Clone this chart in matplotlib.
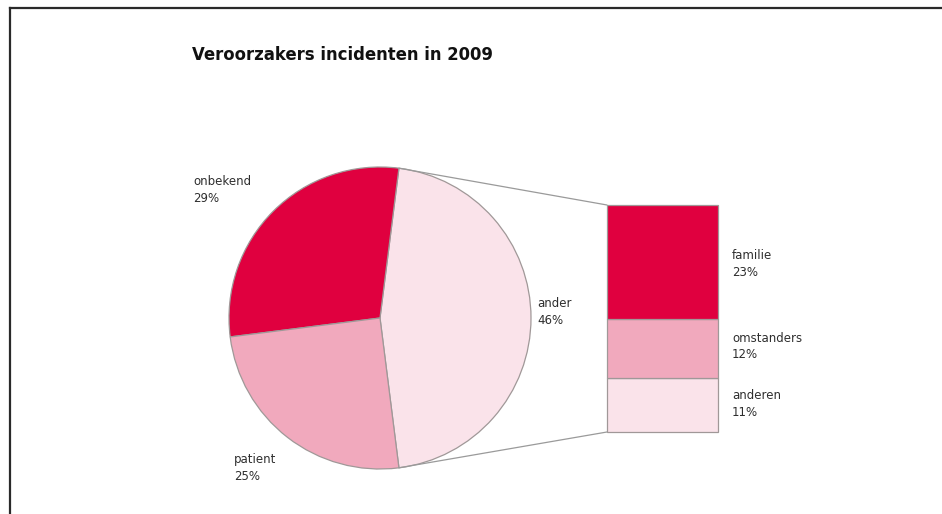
import matplotlib
matplotlib.use("Agg")
import matplotlib.pyplot as plt
from matplotlib.patches import ConnectionPatch
from matplotlib.lines import Line2D
import numpy as np

W, H = 942, 514

title = "Veroorzakers incidenten in 2009"

# main pie
pie_labels = ["ander", "onbekend", "patient"]
pie_values = [46, 29, 25]

# breakdown of "ander"
bar_labels = ["familie", "omstanders", "anderen"]
bar_values = [23, 12, 11]

c_dark = "#E0003F"
c_mid = "#F1A9BD"
c_light = "#FAE3EA"
edge = "#A09898"
txt = "#2e2e2e"

pie_colors = [c_light, c_dark, c_mid]
bar_colors = [c_dark, c_mid, c_light]

fig = plt.figure(figsize=(W / 100, H / 100), dpi=100)
fig.patch.set_facecolor("white")


def px_box(x0, y0, x1, y1):
    return [x0 / W, 1 - y1 / H, (x1 - x0) / W, (y1 - y0) / H]


def ftext(x, y, s, **kw):
    fig.text(x / W, 1 - y / H, s, **kw)


# pie
ax_pie = fig.add_axes(px_box(229, 167, 531, 469))
half = pie_values[0] / 100 * 360 / 2
wedges, _ = ax_pie.pie(
    pie_values, colors=pie_colors, startangle=-half, counterclock=True,
    radius=1.0, wedgeprops=dict(edgecolor=edge, linewidth=0.9),
)
for w in wedges:
    w.set_clip_on(False)
ax_pie.set_xlim(-1, 1)
ax_pie.set_ylim(-1, 1)
ax_pie.set_aspect("equal")
ax_pie.axis("off")

# stacked bar for the "ander" slice
ax_bar = fig.add_axes(px_box(607, 205, 718, 432))
bottom = 0
for val, col in zip(bar_values[::-1], bar_colors[::-1]):
    ax_bar.bar(0.5, val, width=1.0, bottom=bottom, color=col,
               edgecolor=edge, linewidth=0.9, clip_on=False)
    bottom += val
ax_bar.set_xlim(0, 1)
ax_bar.set_ylim(0, sum(bar_values))
ax_bar.axis("off")

# connector lines between the slice and the bar
theta = np.deg2rad(half)
for sign, yb in [(1, sum(bar_values)), (-1, 0)]:
    con = ConnectionPatch(
        xyA=(np.cos(theta), sign * np.sin(theta)), coordsA=ax_pie.transData,
        xyB=(0, yb), coordsB=ax_bar.transData,
        color="#9a9a9a", linewidth=0.9,
    )
    fig.add_artist(con)

# title
ftext(192, 55, title, fontsize=11.9, fontweight="bold", color="#111111",
      va="center", ha="left")

lab_kw = dict(fontsize=8.5, color=txt, va="top", ha="left", linespacing=1.35)
pie_pos = {"ander": (537, 297), "onbekend": (193, 175), "patient": (234, 453)}
for lab, val in zip(pie_labels, pie_values):
    x, y = pie_pos[lab]
    ftext(x, y, f"{lab}\n{val}%", **lab_kw)

bar_pos = [(732, 249), (732, 332), (732, 389)]
for (x, y), lab, val in zip(bar_pos, bar_labels, bar_values):
    ftext(x, y, f"{lab}\n{val}%", **lab_kw)

# outer frame (top and left edges)
fig.add_artist(Line2D([9.5 / W, 1], [1 - 7.5 / H, 1 - 7.5 / H],
                      transform=fig.transFigure, color="#2a2a2a", linewidth=1.6))
fig.add_artist(Line2D([9.5 / W, 9.5 / W], [0, 1 - 7.5 / H],
                      transform=fig.transFigure, color="#2a2a2a", linewidth=1.6))

fig.savefig("out.png", dpi=100, facecolor="white")
